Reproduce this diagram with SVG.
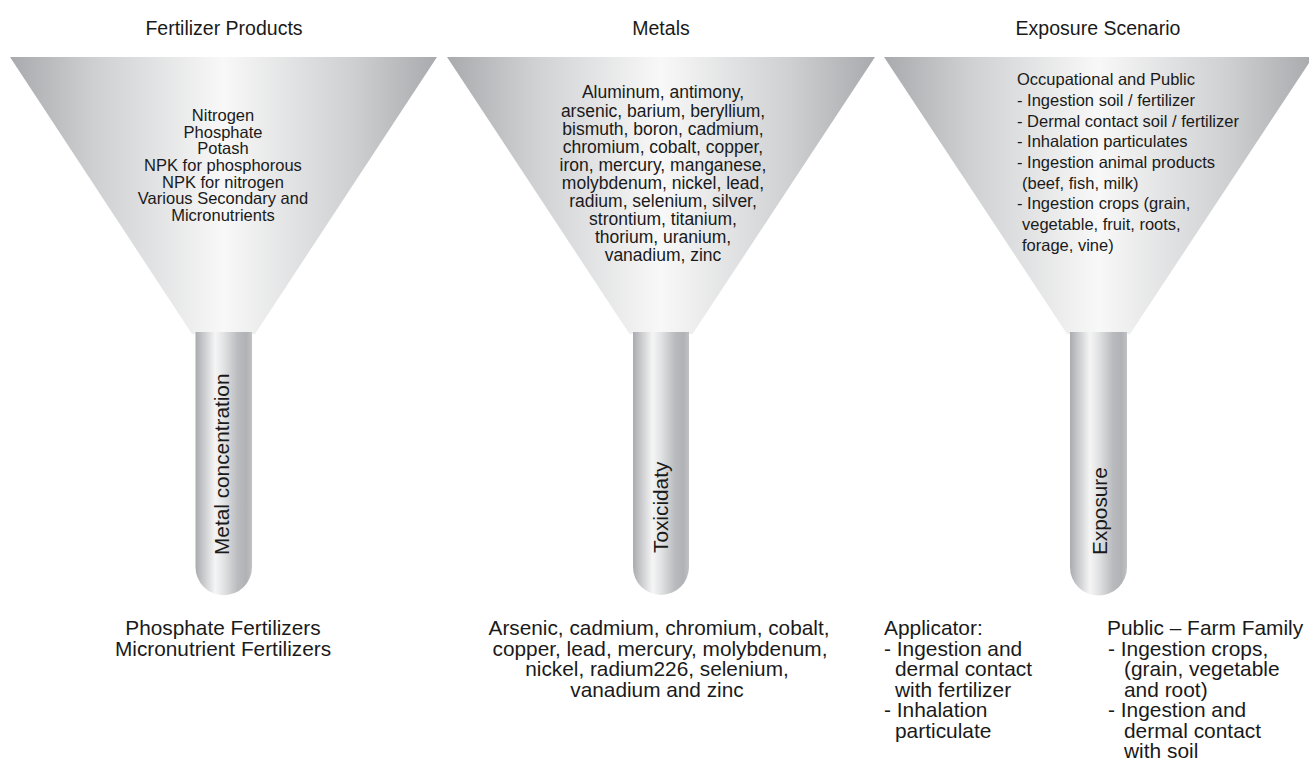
<svg xmlns="http://www.w3.org/2000/svg" width="1309" height="766" viewBox="0 0 1309 766">
<defs>
<linearGradient id="gFunnel" x1="0" y1="0" x2="1" y2="0">
<stop offset="0" stop-color="#a8aaad"/>
<stop offset="0.2" stop-color="#cfd0d2"/>
<stop offset="0.5" stop-color="#f8f8f8"/>
<stop offset="0.8" stop-color="#cfd0d2"/>
<stop offset="1" stop-color="#a8aaad"/>
</linearGradient>
<linearGradient id="gTube" x1="0" y1="0" x2="1" y2="0">
<stop offset="0" stop-color="#a9abae"/>
<stop offset="0.12" stop-color="#c4c5c8"/>
<stop offset="0.35" stop-color="#f5f5f5"/>
<stop offset="0.5" stop-color="#e2e3e4"/>
<stop offset="0.75" stop-color="#b9bbbe"/>
<stop offset="0.9" stop-color="#b0b2b5"/>
<stop offset="1" stop-color="#c0c1c3"/>
</linearGradient>
<style>
text{font-family:"Liberation Sans",Arial,Helvetica,sans-serif;fill:#1a1a1a;}
.title{font-size:19.5px;text-anchor:middle;}
.f1{font-size:16.5px;text-anchor:middle;}
.f2{font-size:17.5px;text-anchor:middle;}
.f3{font-size:16.5px;}
.tube-label{font-size:20.8px;}
.bot{font-size:20.8px;text-anchor:middle;}
.botl{font-size:20.9px;}
.funnel{fill:url(#gFunnel);}
.tube{fill:url(#gTube);}
</style>
</defs>
<rect width="1309" height="766" fill="#ffffff"/>

<g id="titles">
<text class="title" x="224" y="35">Fertilizer Products</text>
<text class="title" x="661" y="35">Metals</text>
<text class="title" x="1098" y="35">Exposure Scenario</text>
</g>

<g id="funnel-fertilizer">
<polygon class="funnel" points="10,57 437,57 255,334 192,334"/>
<path class="tube" d="M195.5,332 V567 A28.25,28.25 0 0 0 252,567 V332 Z"/>
<text class="f1" x="223" y="121">Nitrogen</text>
<text class="f1" x="223" y="137.7">Phosphate</text>
<text class="f1" x="223" y="154.3">Potash</text>
<text class="f1" x="223" y="171">NPK for phosphorous</text>
<text class="f1" x="223" y="187.7">NPK for nitrogen</text>
<text class="f1" x="223" y="204.3">Various Secondary and</text>
<text class="f1" x="223" y="221">Micronutrients</text>
<text class="tube-label" x="229" y="555" transform="rotate(-90 229 555)">Metal concentration</text>
</g>

<g id="funnel-metals">
<polygon class="funnel" points="447,57 875,57 692.5,334 629.5,334"/>
<path class="tube" d="M633,332 V567 A28,28 0 0 0 689,567 V332 Z"/>
<text class="f2" x="663" y="98">Aluminum, antimony,</text>
<text class="f2" x="663" y="116.5">arsenic, barium, beryllium,</text>
<text class="f2" x="663" y="134.5">bismuth, boron, cadmium,</text>
<text class="f2" x="663" y="152.5">chromium, cobalt, copper,</text>
<text class="f2" x="663" y="170.5">iron, mercury, manganese,</text>
<text class="f2" x="663" y="188.5">molybdenum, nickel, lead,</text>
<text class="f2" x="663" y="207">radium, selenium, silver,</text>
<text class="f2" x="663" y="225">strontium, titanium,</text>
<text class="f2" x="663" y="243">thorium, uranium,</text>
<text class="f2" x="663" y="261">vanadium, zinc</text>
<text class="tube-label" x="668" y="553" transform="rotate(-90 668 553)">Toxicidaty</text>
</g>

<g id="funnel-exposure">
<polygon class="funnel" points="884,57 1313,57 1130,334 1067,334"/>
<path class="tube" d="M1070,332 V567 A28.5,28.5 0 0 0 1127,567 V332 Z"/>
<text class="f3" x="1017" y="85">Occupational and Public</text>
<text class="f3" x="1017" y="106">- Ingestion soil / fertilizer</text>
<text class="f3" x="1017" y="126.5">- Dermal contact soil / fertilizer</text>
<text class="f3" x="1017" y="147">- Inhalation particulates</text>
<text class="f3" x="1017" y="168">- Ingestion animal products</text>
<text class="f3" x="1022" y="188.5">(beef, fish, milk)</text>
<text class="f3" x="1017" y="209">- Ingestion crops (grain,</text>
<text class="f3" x="1022" y="230">vegetable, fruit, roots,</text>
<text class="f3" x="1022" y="250.5">forage, vine)</text>
<text class="tube-label" x="1106.5" y="555" transform="rotate(-90 1106.5 555)">Exposure</text>
</g>

<g id="connectors"></g>

<g id="result-fertilizer">
<text class="bot" x="223" y="635">Phosphate Fertilizers</text>
<text class="bot" x="223" y="656">Micronutrient Fertilizers</text>
</g>

<g id="result-metals">
<text class="bot" x="659" y="635">Arsenic, cadmium, chromium, cobalt,</text>
<text class="bot" x="660" y="655.5">copper, lead, mercury, molybdenum,</text>
<text class="bot" x="657" y="676">nickel, radium226, selenium,</text>
<text class="bot" x="657" y="696.5">vanadium and zinc</text>
</g>

<g id="result-applicator">
<text class="botl" x="884" y="635">Applicator:</text>
<text class="botl" x="884" y="655.5">- Ingestion and</text>
<text class="botl" x="895" y="676">dermal contact</text>
<text class="botl" x="895" y="696.5">with fertilizer</text>
<text class="botl" x="884" y="717">- Inhalation</text>
<text class="botl" x="895" y="737.5">particulate</text>
</g>

<g id="result-public">
<text class="botl" x="1107" y="635">Public – Farm Family</text>
<text class="botl" x="1108" y="655.5">- Ingestion crops,</text>
<text class="botl" x="1124" y="676">(grain, vegetable</text>
<text class="botl" x="1124" y="696.5">and root)</text>
<text class="botl" x="1108" y="717">- Ingestion and</text>
<text class="botl" x="1124" y="737.5">dermal contact</text>
<text class="botl" x="1124" y="758">with soil</text>
</g>
</svg>
